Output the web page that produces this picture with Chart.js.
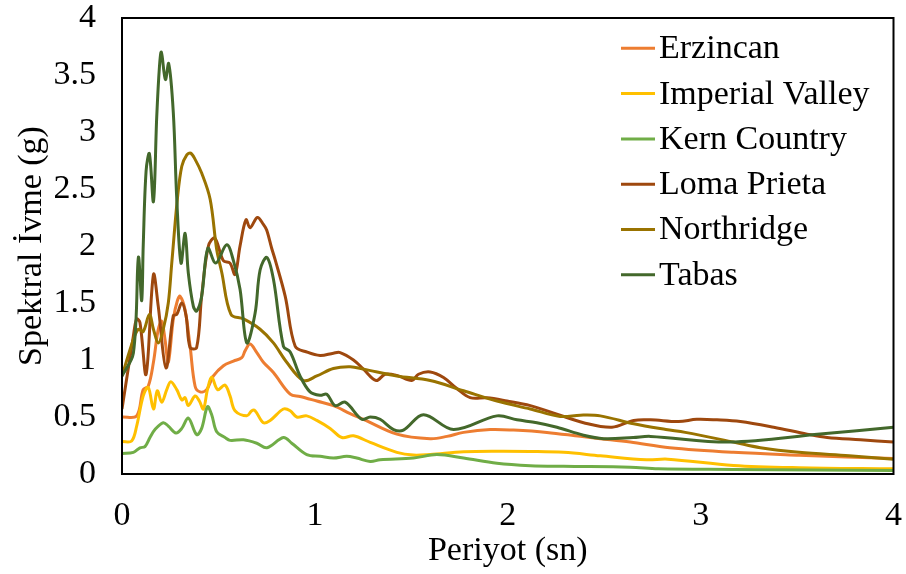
<!DOCTYPE html>
<html>
<head>
<meta charset="utf-8">
<script src="https://cdn.jsdelivr.net/npm/chart.js@4/dist/chart.umd.min.js"></script>
<style>
  html, body { margin: 0; padding: 0; background: #fff; }
  #wrap { width: 906px; height: 574px; }
</style>
</head>
<body>
<div id="wrap"><canvas id="c" width="906" height="574"></canvas></div>
<script>
// Earthquake records and their colours
const seriesNames = ['Erzincan', 'Imperial Valley', 'Kern Country', 'Loma Prieta', 'Northridge', 'Tabas'];
const seriesColors = ['#ED7D31', '#FFC000', '#70AD47', '#9E480E', '#997300', '#43682B'];

// Period T (s) and spectral acceleration Sa (g) for each record
const erzincanT  = [0.0, 0.076, 0.11, 0.136, 0.163, 0.188, 0.206, 0.223, 0.24, 0.266, 0.287, 0.301, 0.327, 0.353, 0.379, 0.405, 0.439, 0.474, 0.526, 0.578, 0.621, 0.638, 0.664, 0.699, 0.733, 0.785, 0.872, 0.923, 1.01, 1.096, 1.183, 1.252, 1.425, 1.598, 1.685, 1.771, 1.909, 2.03, 2.203, 2.376, 2.48, 2.635, 2.84, 3.17, 3.51, 4.0];
const erzincanSa = [0.50, 0.51, 0.74, 0.77, 0.98, 1.27, 1.34, 1.18, 0.98, 1.36, 1.52, 1.56, 1.44, 1.12, 0.77, 0.72, 0.74, 0.86, 0.95, 0.99, 1.02, 1.08, 1.14, 1.065, 0.98, 0.89, 0.70, 0.68, 0.64, 0.60, 0.53, 0.48, 0.35, 0.31, 0.33, 0.365, 0.39, 0.385, 0.365, 0.33, 0.31, 0.28, 0.23, 0.19, 0.165, 0.135];

const imperialT  = [0.0, 0.05, 0.076, 0.11, 0.136, 0.163, 0.183, 0.206, 0.232, 0.253, 0.284, 0.31, 0.327, 0.344, 0.379, 0.401, 0.422, 0.443, 0.465, 0.496, 0.534, 0.56, 0.586, 0.647, 0.673, 0.69, 0.733, 0.768, 0.837, 0.872, 0.906, 0.958, 1.01, 1.079, 1.14, 1.2, 1.287, 1.425, 1.511, 1.598, 1.771, 1.944, 2.117, 2.29, 2.48, 2.72, 2.83, 3.17, 3.51, 4.0];
const imperialSa = [0.285, 0.29, 0.42, 0.685, 0.76, 0.57, 0.73, 0.63, 0.74, 0.81, 0.74, 0.65, 0.67, 0.60, 0.685, 0.64, 0.57, 0.74, 0.85, 0.74, 0.78, 0.685, 0.555, 0.51, 0.555, 0.555, 0.45, 0.47, 0.57, 0.555, 0.50, 0.51, 0.47, 0.40, 0.32, 0.335, 0.277, 0.19, 0.166, 0.172, 0.195, 0.20, 0.198, 0.19, 0.16, 0.125, 0.13, 0.075, 0.055, 0.045];

const kernT  = [0.0, 0.059, 0.093, 0.119, 0.145, 0.171, 0.214, 0.24, 0.28, 0.31, 0.344, 0.387, 0.413, 0.443, 0.465, 0.491, 0.534, 0.56, 0.63, 0.699, 0.751, 0.837, 0.88, 0.958, 1.027, 1.096, 1.165, 1.217, 1.287, 1.338, 1.511, 1.633, 1.771, 1.944, 2.117, 2.29, 2.635, 2.78, 3.17, 4.0];
const kernSa = [0.18, 0.19, 0.23, 0.24, 0.32, 0.39, 0.45, 0.42, 0.36, 0.40, 0.49, 0.345, 0.40, 0.59, 0.52, 0.37, 0.32, 0.295, 0.30, 0.27, 0.23, 0.32, 0.27, 0.17, 0.155, 0.14, 0.155, 0.14, 0.11, 0.125, 0.14, 0.17, 0.14, 0.094, 0.073, 0.067, 0.06, 0.045, 0.04, 0.03];

const lomaT  = [0.0, 0.059, 0.076, 0.093, 0.125, 0.163, 0.188, 0.228, 0.266, 0.284, 0.31, 0.332, 0.353, 0.387, 0.413, 0.448, 0.481, 0.526, 0.56, 0.586, 0.612, 0.643, 0.664, 0.702, 0.733, 0.75, 0.776, 0.794, 0.846, 0.898, 0.958, 1.027, 1.096, 1.131, 1.2, 1.252, 1.318, 1.364, 1.425, 1.503, 1.537, 1.598, 1.667, 1.736, 1.805, 1.892, 1.996, 2.117, 2.255, 2.393, 2.54, 2.653, 2.74, 2.886, 2.98, 3.085, 3.206, 3.379, 3.552, 3.656, 3.829, 4.0];
const lomaSa = [0.57, 1.21, 1.36, 1.33, 0.875, 1.75, 1.47, 0.93, 1.39, 1.40, 1.50, 1.39, 1.11, 1.11, 1.56, 2.0, 2.07, 1.87, 1.85, 1.75, 2.0, 2.23, 2.16, 2.25, 2.19, 2.14, 1.98, 1.88, 1.56, 1.12, 1.07, 1.04, 1.06, 1.065, 1.0, 0.92, 0.82, 0.875, 0.865, 0.82, 0.875, 0.895, 0.846, 0.75, 0.67, 0.668, 0.64, 0.60, 0.525, 0.45, 0.41, 0.47, 0.475, 0.46, 0.48, 0.475, 0.46, 0.41, 0.35, 0.32, 0.30, 0.28];

const northridgeT  = [0.0, 0.059, 0.085, 0.11, 0.142, 0.163, 0.188, 0.214, 0.24, 0.258, 0.287, 0.31, 0.336, 0.356, 0.379, 0.413, 0.457, 0.491, 0.517, 0.565, 0.63, 0.716, 0.785, 0.854, 0.941, 1.01, 1.096, 1.183, 1.252, 1.425, 1.598, 1.771, 1.944, 2.117, 2.272, 2.376, 2.48, 2.653, 2.82, 2.92, 3.17, 3.31, 3.51, 3.77, 4.0];
const northridgeSa = [0.86, 1.18, 1.27, 1.25, 1.40, 1.27, 1.15, 1.27, 1.50, 1.85, 2.41, 2.70, 2.80, 2.815, 2.76, 2.64, 2.41, 1.97, 1.77, 1.40, 1.36, 1.27, 1.15, 0.98, 0.82, 0.86, 0.925, 0.94, 0.92, 0.86, 0.82, 0.73, 0.64, 0.57, 0.505, 0.516, 0.51, 0.44, 0.39, 0.365, 0.28, 0.23, 0.19, 0.16, 0.13];

const tabasT  = [0.0, 0.059, 0.085, 0.102, 0.11, 0.125, 0.142, 0.163, 0.18, 0.194, 0.204, 0.225, 0.242, 0.266, 0.284, 0.306, 0.327, 0.344, 0.37, 0.387, 0.413, 0.445, 0.486, 0.543, 0.578, 0.612, 0.647, 0.69, 0.716, 0.751, 0.785, 0.837, 0.872, 0.923, 0.975, 1.027, 1.062, 1.105, 1.157, 1.243, 1.287, 1.338, 1.408, 1.459, 1.563, 1.719, 1.944, 2.048, 2.151, 2.255, 2.393, 2.497, 2.65, 2.74, 3.15, 3.62, 4.0];
const tabasSa = [0.86, 1.06, 1.90, 1.52, 2.0, 2.66, 2.81, 2.39, 3.13, 3.57, 3.70, 3.46, 3.60, 3.17, 2.41, 1.85, 2.11, 1.76, 1.47, 1.43, 1.56, 1.98, 1.85, 2.01, 1.87, 1.62, 1.15, 1.41, 1.79, 1.90, 1.71, 1.12, 1.07, 0.86, 0.72, 0.69, 0.70, 0.60, 0.63, 0.48, 0.50, 0.48, 0.39, 0.385, 0.52, 0.39, 0.51, 0.475, 0.45, 0.41, 0.34, 0.31, 0.32, 0.33, 0.28, 0.35, 0.41];

const periodSets = [erzincanT, imperialT, kernT, lomaT, northridgeT, tabasT];
const accelSets  = [erzincanSa, imperialSa, kernSa, lomaSa, northridgeSa, tabasSa];

const FONT_FAMILY = '"Liberation Serif", "Times New Roman", serif';
const FONT_SIZE = 34;

const datasets = seriesNames.map((name, i) => ({
  label: name,
  data: periodSets[i].map((t, k) => ({ x: t, y: accelSets[i][k] })),
  borderColor: seriesColors[i],
  backgroundColor: seriesColors[i],
  borderWidth: 3,
  pointRadius: 0,
  showLine: true,
  fill: false,
  tension: 0.35,
  order: seriesNames.length - i
}));

// Black frame around the plot area
const plotFrame = {
  id: 'plotFrame',
  afterDatasetsDraw(chart) {
    const { ctx, chartArea: a } = chart;
    ctx.save();
    ctx.strokeStyle = '#000';
    ctx.lineWidth = 2;
    ctx.strokeRect(a.left, a.top, a.right - a.left, a.bottom - a.top);
    ctx.restore();
  }
};

// Vertical legend placed inside the plot area, top right
const insideLegend = {
  id: 'insideLegend',
  afterDraw(chart) {
    const { ctx } = chart;
    ctx.save();
    ctx.font = FONT_SIZE + 'px ' + FONT_FAMILY;
    ctx.textBaseline = 'middle';
    ctx.textAlign = 'left';
    chart.data.datasets.forEach((ds, i) => {
      const y = 48.3 + 45.3 * i;
      ctx.strokeStyle = ds.borderColor;
      ctx.lineWidth = 3;
      ctx.beginPath();
      ctx.moveTo(621, y);
      ctx.lineTo(655, y);
      ctx.stroke();
      ctx.fillStyle = '#000';
      ctx.fillText(ds.label, 659, y + 1);
    });
    ctx.restore();
  }
};

new Chart(document.getElementById('c'), {
  type: 'scatter',
  data: { datasets },
  options: {
    responsive: false,
    animation: false,
    devicePixelRatio: 1,
    layout: { padding: { top: 18, right: 12.5, left: 0, bottom: 0 } },
    plugins: {
      legend: { display: false },
      tooltip: { enabled: false }
    },
    scales: {
      x: {
        type: 'linear',
        min: 0,
        max: 4,
        afterFit(scale) {
          scale.height = 100;
          scale.paddingLeft = 0;
          scale.paddingRight = 0;
        },
        grid: { display: false, drawTicks: false },
        border: { display: false },
        ticks: {
          stepSize: 1,
          padding: 22,
          color: '#000',
          font: { family: FONT_FAMILY, size: FONT_SIZE },
          callback: v => String(v)
        },
        title: {
          display: true,
          text: 'Periyot (sn)',
          color: '#000',
          font: { family: FONT_FAMILY, size: FONT_SIZE, lineHeight: 1.2 },
          padding: { top: 0, bottom: 3 }
        }
      },
      y: {
        type: 'linear',
        min: 0,
        max: 4,
        afterFit(scale) {
          scale.width = 122;
          scale.paddingTop = 0;
          scale.paddingBottom = 0;
        },
        grid: { display: false, drawTicks: false },
        border: { display: false },
        ticks: {
          stepSize: 0.5,
          padding: 26,
          color: '#000',
          font: { family: FONT_FAMILY, size: FONT_SIZE },
          callback: v => String(v)
        },
        title: {
          display: true,
          text: 'Spektral İvme (g)',
          color: '#000',
          font: { family: FONT_FAMILY, size: FONT_SIZE, lineHeight: 1.2 },
          padding: { top: 12, bottom: 0 }
        }
      }
    }
  },
  plugins: [plotFrame, insideLegend]
});
</script>
</body>
</html>
